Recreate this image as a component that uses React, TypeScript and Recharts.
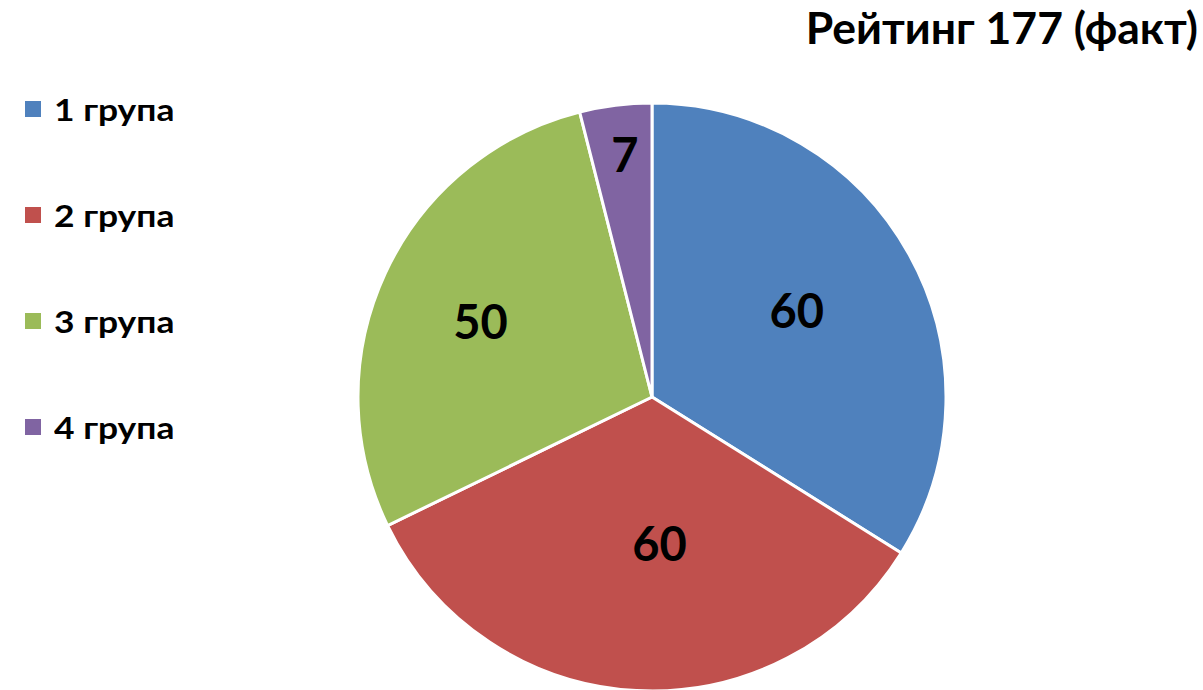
import { PieChart, Pie, Cell } from 'recharts'

const GROUPS = ['1 група', '2 група', '3 група', '4 група']
const VALUES = [60, 60, 50, 7]
const COLORS = ['#4F81BD', '#C0504D', '#9BBB59', '#8064A2']
const TITLE = 'Рейтинг 177 (факт)'

// Excel best-fit label placement: distance from centre and a small angle nudge per slice
const LABEL_RADIUS = [168, 148, 187, 243]
const LABEL_ANGLE_SHIFT = [1.5, 6, 1.5, -0.7]

const FONT = 'Lato, "Open Sans", sans-serif'

const data = GROUPS.map((name, i) => ({ name, value: VALUES[i] }))

const RADIAN = Math.PI / 180

function renderLabel(props: any) {
  const { cx, cy, midAngle, index, value } = props
  const r = LABEL_RADIUS[index]
  const a = midAngle + LABEL_ANGLE_SHIFT[index]
  const x = cx + r * Math.cos(-a * RADIAN)
  const y = cy + r * Math.sin(-a * RADIAN) - 2
  return (
    <text
      x={x}
      y={y}
      textAnchor="middle"
      dominantBaseline="central"
      fill="#000"
      fontFamily={FONT}
      fontWeight={700}
      fontSize={47}
    >
      {value}
    </text>
  )
}

function LegendBox() {
  return (
    <div style={{ position: 'absolute', left: 25, top: 56, fontFamily: FONT }}>
      {GROUPS.map((g, i) => (
        <div key={g} style={{ display: 'flex', alignItems: 'center', height: 106 }}>
          <span
            style={{
              display: 'inline-block',
              width: 16,
              height: 16,
              background: COLORS[i],
              marginRight: 13,
            }}
          />
          <span
            style={{
              display: 'inline-block',
              fontSize: 30,
              fontWeight: 700,
              color: '#000',
              transform: 'scaleX(1.18)',
              transformOrigin: 'left center',
              whiteSpace: 'nowrap',
            }}
          >
            {g}
          </span>
        </div>
      ))}
    </div>
  )
}

export default function App() {
  return (
    <div style={{ position: 'relative', width: 1203, height: 690, background: '#fff' }}>
      <style>{'body{margin:0}'}</style>
      <PieChart width={1203} height={690} margin={{ top: 0, right: 0, bottom: 0, left: 0 }}>
        <Pie
          data={data}
          dataKey="value"
          nameKey="name"
          cx={652}
          cy={397}
          outerRadius={294}
          startAngle={90}
          endAngle={-270}
          stroke="#fff"
          strokeWidth={3}
          label={renderLabel}
          labelLine={false}
          isAnimationActive={false}
        >
          {data.map((d, i) => (
            <Cell key={d.name} fill={COLORS[i]} />
          ))}
        </Pie>
      </PieChart>
      <div
        style={{
          position: 'absolute',
          right: 5,
          top: 0,
          fontFamily: FONT,
          fontWeight: 700,
          fontSize: 44.5,
          color: '#000',
          whiteSpace: 'nowrap',
        }}
      >
        {TITLE}
      </div>
      <LegendBox />
    </div>
  )
}
